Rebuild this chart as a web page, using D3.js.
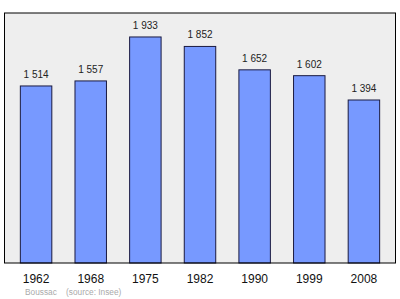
<!DOCTYPE html>
<html>
<head>
<meta charset="utf-8">
<script src="https://cdn.jsdelivr.net/npm/d3@7"></script>
<style>
  body { margin: 0; background: #fff; }
  text { font-family: "Liberation Sans", Arial, sans-serif; }
</style>
</head>
<body>
<svg id="chart" width="400" height="299"></svg>
<script>
// Population of Boussac by census year
const years = ["1962", "1968", "1975", "1982", "1990", "1999", "2008"];
const population = [1514, 1557, 1933, 1852, 1652, 1602, 1394];

const plot = { left: 4.5, right: 395.5, top: 13, bottom: 263 };

const svg = d3.select("#chart");

const x = d3.scaleBand()
  .domain(years)
  .range([plot.left, plot.right])
  .paddingInner(0.424)
  .paddingOuter(0.29);

const y = d3.scaleLinear()
  .domain([0, 2138])
  .range([plot.bottom, plot.top]);

const fmt = v => d3.format(",")(v).replace(",", "\u00a0");

// plot background
svg.append("rect")
  .attr("x", plot.left)
  .attr("y", plot.top)
  .attr("width", plot.right - plot.left)
  .attr("height", plot.bottom - plot.top)
  .attr("fill", "#eeeeee");

// bars
svg.append("g")
  .selectAll("rect")
  .data(years)
  .join("rect")
  .attr("x", d => x(d))
  .attr("y", (d, i) => y(population[i]))
  .attr("width", x.bandwidth())
  .attr("height", (d, i) => y(0) - y(population[i]))
  .attr("fill", "#7799ff")
  .attr("stroke", "#1a1a40")
  .attr("stroke-width", 1);

// value labels
svg.append("g")
  .selectAll("text")
  .data(years)
  .join("text")
  .attr("x", d => x(d) + x.bandwidth() / 2)
  .attr("y", (d, i) => y(population[i]) - 8)
  .attr("text-anchor", "middle")
  .style("font-size", "10px")
  .attr("fill", "#222")
  .text((d, i) => fmt(population[i]));

// frame on top
svg.append("rect")
  .attr("x", plot.left)
  .attr("y", plot.top)
  .attr("width", plot.right - plot.left)
  .attr("height", plot.bottom - plot.top)
  .attr("fill", "none")
  .attr("stroke", "#000")
  .attr("stroke-width", 1);

// year labels
const axis = d3.axisBottom(x).tickSize(0).tickPadding(0);
const gx = svg.append("g")
  .attr("transform", `translate(0,${plot.bottom})`)
  .call(axis);
gx.select(".domain").remove();
gx.selectAll("text")
  .attr("y", 19.5)
  .attr("dy", null)
  .style("font-size", "12px")
  .attr("fill", "#111");

// source
svg.append("text")
  .attr("x", 25)
  .attr("y", 295)
  .style("font-size", "8.3px")
  .attr("fill", "#aaaaaa")
  .text("Boussac");
svg.append("text")
  .attr("x", 66)
  .attr("y", 295)
  .style("font-size", "8.3px")
  .attr("fill", "#aaaaaa")
  .text("(source: Insee)");
</script>
</body>
</html>
